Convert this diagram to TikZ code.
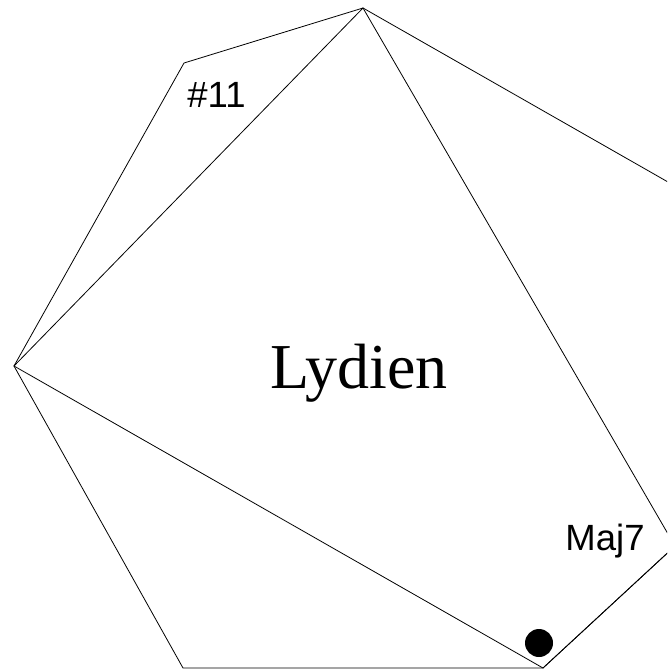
\documentclass[tikz,border=0pt]{standalone}
\usepackage{fontspec}
\setmainfont{Liberation Serif}
\newfontfamily\degfont{Liberation Sans}
\tikzset{
  edge/.style={line width=0.8pt},
  deg/.style={font=\degfont\fontsize{36.5}{42}\selectfont, inner sep=0pt, anchor=base},
  modename/.style={font=\fontsize{64}{72}\selectfont, inner sep=0pt, anchor=base}
}
\begin{document}
\begin{tikzpicture}[x=1pt,y=-1pt]
\useasboundingbox (0,0) rectangle (667,669);
\clip (0,0) rectangle (667,669);
\coordinate (d11) at (184,63);
\coordinate (d1) at (363,8);
\coordinate (d2) at (675,186);
\coordinate (d3) at (675,546);
\coordinate (d4) at (543,668);
\coordinate (d5) at (183,668);
\coordinate (d6) at (14,366);
\draw[edge] (d11) -- (d1) -- (d2) -- (d3) -- (d4) -- (d5) -- (d6) -- cycle;
\draw[edge] (d1) -- (d3) -- (d4) -- (d6) -- cycle;
\fill (539,643) circle (14pt);
\node[deg] (sharp) at (216.5,107) {\#11};
\node[deg] (maj) at (605,550) {Maj7};
\node[modename] (mode) at (359,388) {Lydien};
\end{tikzpicture}
\end{document}
